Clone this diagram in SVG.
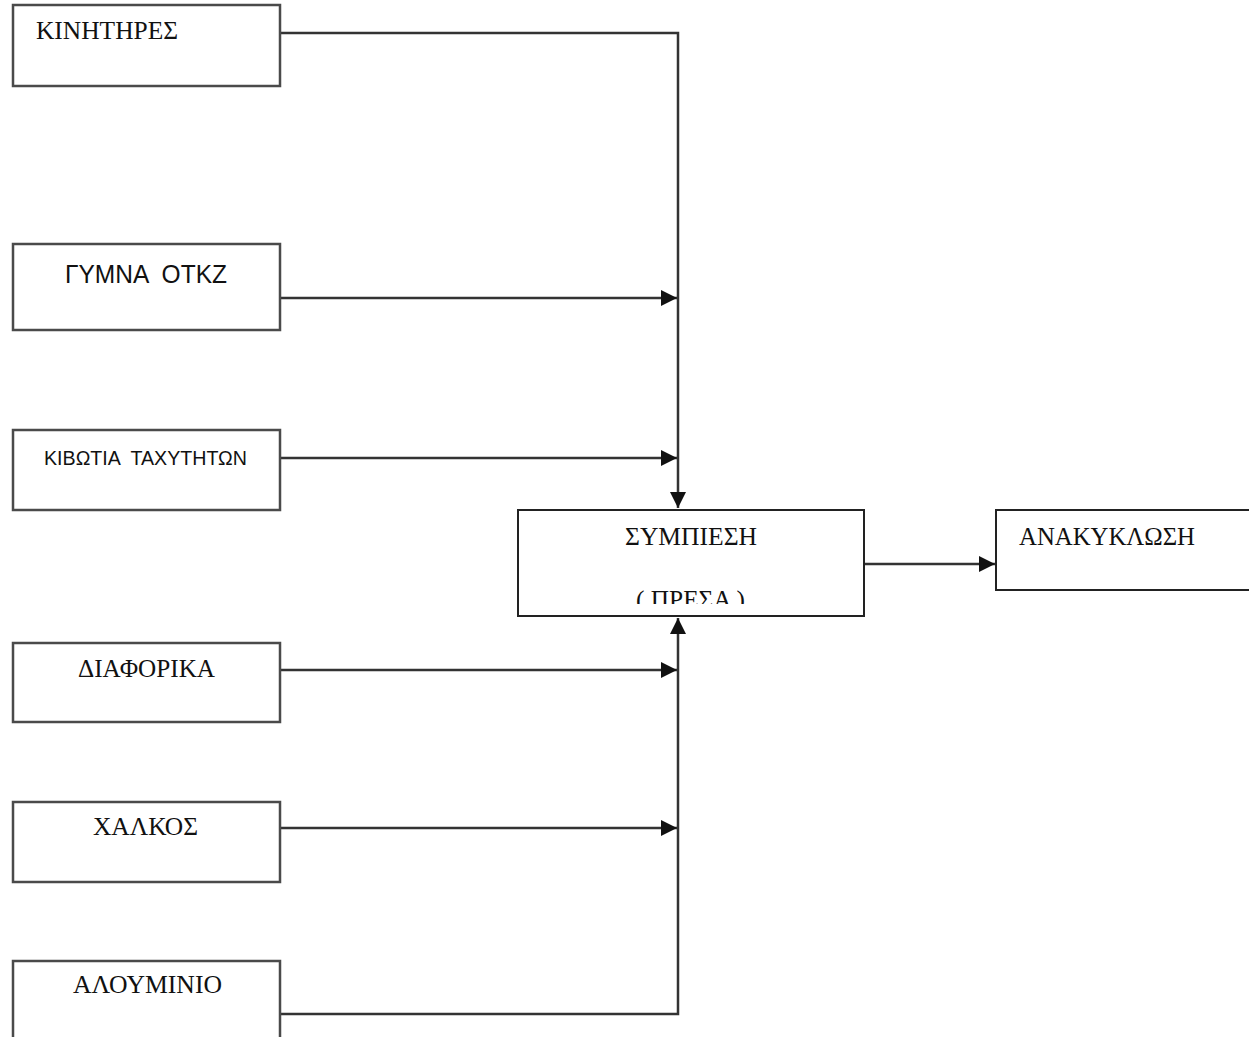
<svg xmlns="http://www.w3.org/2000/svg" width="1249" height="1037" viewBox="0 0 1249 1037">
<style>
.box{fill:#fff;stroke:#4a4a4a;stroke-width:2.5}
.cbox{fill:#fff;stroke:#222;stroke-width:2}
.ln{fill:none;stroke:#333;stroke-width:2.5}
.serif{font-family:"Liberation Serif","DejaVu Serif",serif;font-size:25px;fill:#111}
.sans{font-family:"Liberation Sans","DejaVu Sans",sans-serif;font-size:25px;fill:#111}
.sans2{font-family:"Liberation Sans","DejaVu Sans",sans-serif;font-size:20px;fill:#111}
</style>
<defs>
<marker id="ah" viewBox="0 0 10 10" refX="10" refY="5" markerWidth="17" markerHeight="16" markerUnits="userSpaceOnUse" orient="auto">
<path d="M0,0 L10,5 L0,10 z" fill="#111"/>
</marker>
<clipPath id="cclip"><rect x="518" y="510" width="346" height="94"/></clipPath>
</defs>
<g id="connectors">
<path class="ln" d="M280,33 H678 V508" marker-end="url(#ah)"/>
<path class="ln" d="M280,298 H677" marker-end="url(#ah)"/>
<path class="ln" d="M280,458 H677" marker-end="url(#ah)"/>
<path class="ln" d="M280,1014 H678 V618" marker-end="url(#ah)"/>
<path class="ln" d="M280,670 H677" marker-end="url(#ah)"/>
<path class="ln" d="M280,828 H677" marker-end="url(#ah)"/>
<path class="ln" d="M864,564 H995" marker-end="url(#ah)"/>
</g>
<g id="n1"><rect class="box" x="13" y="5" width="267" height="81"/><text class="serif" x="36" y="39" textLength="142" lengthAdjust="spacingAndGlyphs">ΚΙΝΗΤΗΡΕΣ</text></g>
<g id="n2"><rect class="box" x="13" y="244" width="267" height="86"/><text class="sans" x="65" y="283" xml:space="preserve" textLength="162" lengthAdjust="spacingAndGlyphs">ΓΥΜΝΑ  ΟΤΚΖ</text></g>
<g id="n3"><rect class="box" x="13" y="430" width="267" height="80"/><text class="sans2" x="44" y="465" xml:space="preserve" textLength="203" lengthAdjust="spacingAndGlyphs">ΚΙΒΩΤΙΑ  ΤΑΧΥΤΗΤΩΝ</text></g>
<g id="n4"><rect class="box" x="13" y="643" width="267" height="79"/><text class="serif" x="78" y="677" textLength="137" lengthAdjust="spacingAndGlyphs">ΔΙΑΦΟΡΙΚΑ</text></g>
<g id="n5"><rect class="box" x="13" y="802" width="267" height="80"/><text class="serif" x="93" y="835" textLength="105" lengthAdjust="spacingAndGlyphs">ΧΑΛΚΟΣ</text></g>
<g id="n6"><rect class="box" x="13" y="961" width="267" height="90"/><text class="serif" x="73" y="993" textLength="149" lengthAdjust="spacingAndGlyphs">ΑΛΟΥΜΙΝΙΟ</text></g>
<g id="center"><rect class="cbox" x="518" y="510" width="346" height="106"/><text class="serif" x="625" y="545" textLength="132" lengthAdjust="spacingAndGlyphs">ΣΥΜΠΙΕΣΗ</text><text class="serif" x="636" y="608" clip-path="url(#cclip)" xml:space="preserve" textLength="109" lengthAdjust="spacingAndGlyphs">( ΠΡΕΣΑ )</text></g>
<g id="out"><rect class="cbox" x="996" y="510" width="270" height="80"/><text class="serif" x="1019" y="545" textLength="176" lengthAdjust="spacingAndGlyphs">ΑΝΑΚΥΚΛΩΣΗ</text></g>
</svg>
